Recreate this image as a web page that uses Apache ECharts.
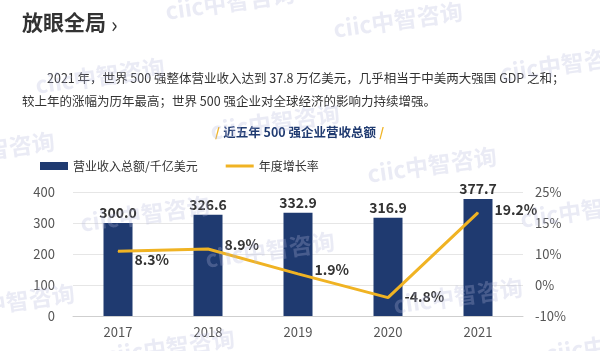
<!DOCTYPE html>
<html>
<head>
<meta charset="utf-8">
<script src="https://cdn.jsdelivr.net/npm/echarts@6/dist/echarts.min.js"></script>
<style>
  html, body { margin: 0; padding: 0; background: #fff; }
  #root { width: 600px; height: 351px; }
</style>
</head>
<body>
<div id="root"></div>
<script>
// chart data
const years = ['2017', '2018', '2019', '2020', '2021']
const revenue = [300.0, 326.6, 332.9, 316.9, 377.7]
const growth = [8.3, 8.9, 1.9, -4.8, 19.2]
const leftTicks = ['0', '100', '200', '300', '400']
const rightTicks = ['-10%', '0%', '10%', '15%', '25%']

const FONT = '"Noto Sans CJK SC", "Noto Sans", sans-serif'
const NAVY = '#1f3a70'
const GOLD = '#f0b323'

// faint ciic watermarks scattered over the picture
const marks = [
  [230, 2], [398, 20], [100, 76], [565, 64], [275, 122], [-10, 150],
  [432, 165], [145, 214], [585, 210], [10, 302], [270, 250],
  [458, 296], [170, 347], [610, 345]
]
const watermarks = marks.map(([x, y]) => ({
  type: 'text',
  x, y,
  rotation: 0.14,
  z: 100,
  silent: true,
  style: {
    text: 'ciic中智咨询',
    font: 'bold 23px ' + FONT,
    fill: 'rgba(180,183,220,0.28)',
    align: 'center',
    verticalAlign: 'middle'
  }
}))

const chart = echarts.init(document.getElementById('root'))

const option = {
  backgroundColor: '#fff',
  animation: false,
  textStyle: { fontFamily: FONT },
  graphic: [
    {
      type: 'text', left: 22, top: 12,
      style: { text: '放眼全局', font: 'bold 21px ' + FONT, fill: '#333' }
    },
    {
      type: 'text', left: 111, top: 14,
      style: { text: '›', font: '22px ' + FONT, fill: '#333' }
    },
    {
      type: 'text', left: 47, top: 72,
      style: {
        text: '2021 年，世界 500 强整体营业收入达到 37.8 万亿美元，几乎相当于中美两大强国 GDP 之和；',
        font: '12.5px ' + FONT, fill: '#333'
      }
    },
    {
      type: 'text', left: 22, top: 95,
      style: {
        text: '较上年的涨幅为历年最高；世界 500 强企业对全球经济的影响力持续增强。',
        font: '12.5px ' + FONT, fill: '#333'
      }
    },
    {
      type: 'text', left: 215, top: 126,
      style: {
        text: '{s|/} {t|近五年 500 强企业营收总额} {s|/}',
        rich: {
          s: { font: 'bold 12.5px ' + FONT, fill: GOLD, color: GOLD },
          t: { font: 'bold 12.5px ' + FONT, fill: NAVY, color: NAVY }
        }
      }
    },
    ...watermarks
  ],
  legend: {
    left: 35,
    top: 155,
    itemGap: 28,
    textStyle: { fontSize: 12, color: '#333', fontFamily: FONT },
    data: [
      { name: '营业收入总额/千亿美元', icon: 'rect', itemStyle: { color: NAVY } },
      { name: '年度增长率', icon: 'path://M0,0 L28,0 L28,3 L0,3 Z', itemStyle: { color: GOLD } }
    ],
    itemWidth: 28,
    itemHeight: 8
  },
  grid: { left: 73, right: 77, top: 192, bottom: 35 },
  xAxis: {
    type: 'category',
    data: years,
    axisTick: { show: false },
    axisLine: { lineStyle: { color: '#cfcfcf', width: 1 } },
    axisLabel: { color: '#555', fontSize: 13, margin: 10 }
  },
  yAxis: [
    {
      type: 'value',
      min: 0, max: 400, interval: 100,
      axisLine: { show: false },
      axisTick: { show: false },
      splitLine: { lineStyle: { color: '#e6e6e6' } },
      axisLabel: {
        color: '#555', fontSize: 13, margin: 18,
        formatter: (v, i) => leftTicks[i]
      }
    },
    {
      type: 'value',
      min: -10, max: 25, interval: 8.75,
      axisLine: { show: false },
      axisTick: { show: false },
      splitLine: { show: false },
      axisLabel: {
        color: '#555', fontSize: 13, margin: 12,
        formatter: (v, i) => rightTicks[i]
      }
    }
  ],
  series: [
    {
      name: '营业收入总额/千亿美元',
      type: 'bar',
      data: revenue,
      barWidth: 29,
      itemStyle: { color: NAVY },
      label: {
        show: true,
        position: 'top',
        distance: 3,
        color: '#333',
        fontWeight: 'bold',
        fontSize: 14,
        formatter: p => p.value.toFixed(1)
      }
    },
    {
      name: '年度增长率',
      type: 'line',
      yAxisIndex: 1,
      data: growth.map((v, i) => ({
        value: v,
        label: { offset: [[0, 9], [0, -4], [0, -4], [0, -1], [0, -3]][i] }
      })),
      symbol: 'circle',
      symbolSize: 1,
      showSymbol: true,
      lineStyle: { color: GOLD, width: 3 },
      itemStyle: { color: GOLD },
      label: {
        show: true,
        position: 'right',
        distance: 16,
        color: '#333',
        fontWeight: 'bold',
        fontSize: 14,
        formatter: p => p.value.toFixed(1) + '%'
      }
    }
  ]
}

chart.setOption(option)
</script>
</body>
</html>
